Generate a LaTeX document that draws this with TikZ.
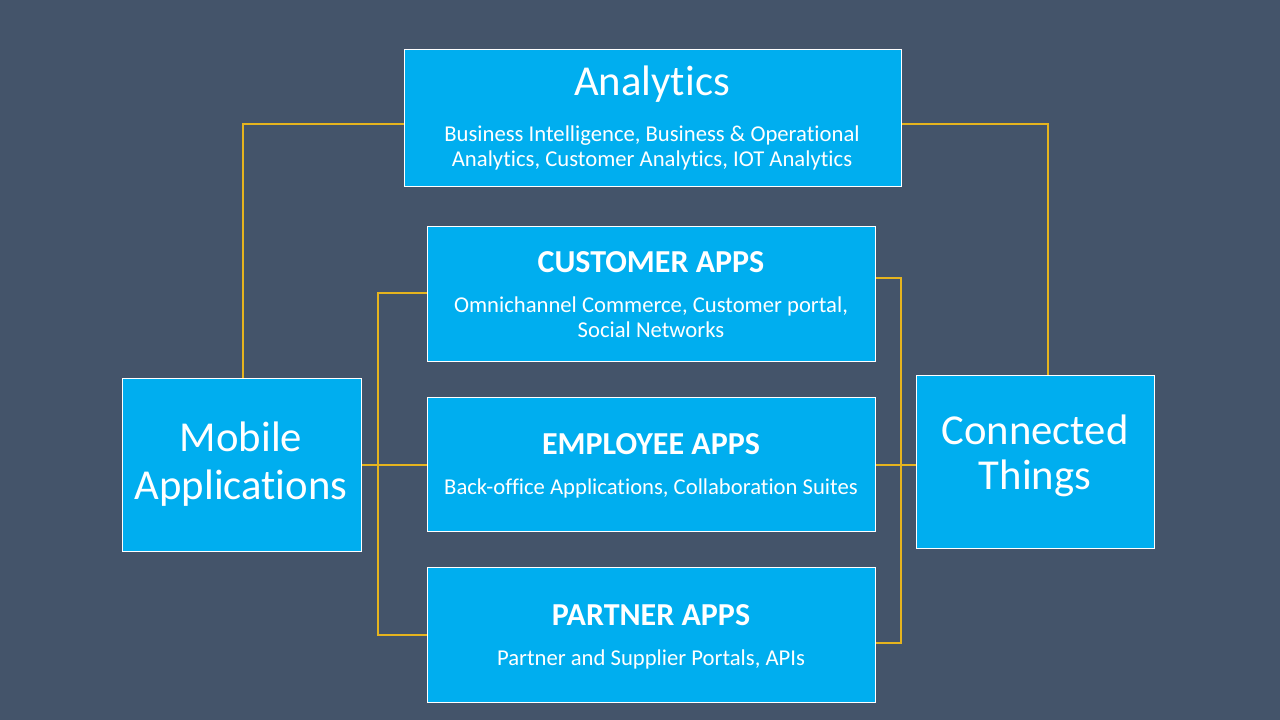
\documentclass[tikz,border=0pt]{standalone}
\usepackage{fontspec}
\setmainfont{Carlito}[Ligatures=NoCommon]
\definecolor{bg}{RGB}{68,84,106}
\definecolor{boxc}{RGB}{0,174,239}
\definecolor{gold}{RGB}{230,180,30}
\begin{document}
\begin{tikzpicture}[x=0.75pt,y=-0.75pt,
  box/.style={draw=white,line width=0.6pt,fill=boxc,inner sep=0pt},
  conn/.style={draw=gold,line width=0.8pt},
  txt/.style={text=white,align=center,inner sep=0pt}]
\fill[bg] (0,0) rectangle (1280,720);
\useasboundingbox (0,0) rectangle (1280,720);
% connectors
\coordinate (aL) at (404,124); \coordinate (aLc) at (243,124); \coordinate (mT) at (243,378);
\coordinate (aR) at (901,124); \coordinate (aRc) at (1048,124); \coordinate (cT) at (1048,375);
\draw[conn] (aL) -- (aLc) -- (mT);
\draw[conn] (aR) -- (aRc) -- (cT);
\coordinate (mR) at (361,465);
\coordinate (l1) at (378,293); \coordinate (l3) at (378,635);
\coordinate (c1) at (427,293); \coordinate (c2) at (427,465); \coordinate (c3) at (427,635);
\draw[conn] (mR) -- (c2);
\draw[conn] (c1) -- (l1) -- (l3) -- (c3);
\coordinate (r1) at (875,278); \coordinate (r2) at (875,465); \coordinate (r3) at (875,643);
\coordinate (rv1) at (901,278); \coordinate (rv3) at (901,643); \coordinate (cL) at (916,465);
\draw[conn] (r1) -- (rv1) -- (rv3) -- (r3);
\draw[conn] (r2) -- (cL);
% boxes
\draw[box] (404,49) rectangle (901,186);
\node[txt,font=\fontsize{32}{38}\selectfont] (at) at (652,84) {Analytics};
\node[txt,font=\fontsize{17}{19}\selectfont] (as) at (652,148) {Business Intelligence, Business \& Operational\\Analytics, Customer Analytics, IOT Analytics};
\draw[box] (427,226) rectangle (875,361);
\node[txt,font=\bfseries\fontsize{24}{28}\selectfont] (ct) at (651,262) {CUSTOMER APPS};
\node[txt,font=\fontsize{17}{19}\selectfont] (cs) at (651,317) {Omnichannel Commerce, Customer portal,\\Social Networks};
\draw[box] (427,397) rectangle (875,531);
\node[txt,font=\bfseries\fontsize{24}{28}\selectfont] (et) at (651,444) {EMPLOYEE APPS};
\node[txt,font=\fontsize{17}{19}\selectfont] (es) at (651,488) {Back-office Applications, Collaboration Suites};
\draw[box] (427,567) rectangle (875,702);
\node[txt,font=\bfseries\fontsize{24}{28}\selectfont] (pt) at (651,615) {PARTNER APPS};
\node[txt,font=\fontsize{17}{19}\selectfont] (ps) at (651,659) {Partner and Supplier Portals, APIs};
\draw[box] (122,378) rectangle (361,551);
\node[txt,font=\fontsize{32}{36}\selectfont] (m) at (241,464) {Mobile\\Applications};
\draw[box] (916,375) rectangle (1154,548);
\node[txt,font=\fontsize{32}{34}\selectfont] (ctn) at (1035,456) {Connected\\Things};
\end{tikzpicture}
\end{document}
